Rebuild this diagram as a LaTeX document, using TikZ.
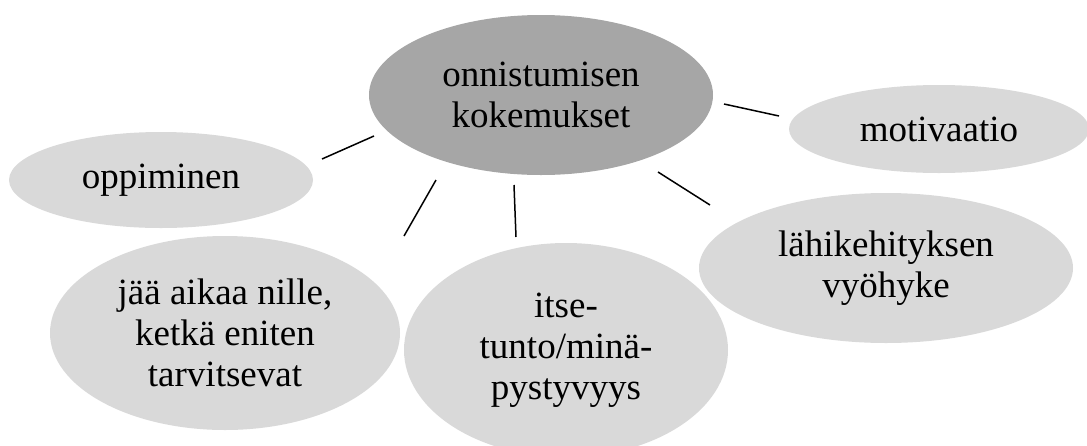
\documentclass[tikz,border=0pt]{standalone}
\usepackage{fontspec}
\setmainfont{Liberation Serif}
\usetikzlibrary{shapes.geometric}
\definecolor{hubgray}{HTML}{A6A6A6}
\definecolor{leafgray}{HTML}{D9D9D9}
\tikzset{
  bubble/.style={ellipse, draw=none, inner sep=0pt, align=center,
    font=\fontsize{37}{41}\selectfont},
  hub/.style={bubble, fill=hubgray},
  leaf/.style={bubble, fill=leafgray},
  spoke/.style={draw=black, line width=1.5pt}
}
\begin{document}
\begin{tikzpicture}[x=1pt,y=-1pt]
\useasboundingbox (0,0) rectangle (1087,445);
\node[hub, minimum width=344pt, minimum height=160pt] (c) at (541,95) {onnistumisen\\kokemukset};
\node[leaf, minimum width=304pt, minimum height=96pt] (opp) at (161,180) {oppiminen};
\node[leaf, minimum width=350pt, minimum height=194pt] (jaa) at (225,333) {jää aikaa nille,\\ketkä eniten\\tarvitsevat};
\node[leaf, minimum width=324pt, minimum height=214pt] (itse) at (566,350) {itse-\\tunto/minä-\\pystyvyys};
\node[leaf, minimum width=374pt, minimum height=150pt] (lahi) at (886,268) {lähikehityksen\\vyöhyke};
\node[leaf, minimum width=300pt, minimum height=88pt] (moti) at (939,129) {motivaatio};
\coordinate (a1) at (374,136); \coordinate (b1) at (322,159);
\coordinate (a2) at (436,180); \coordinate (b2) at (404,236);
\coordinate (a3) at (514,185); \coordinate (b3) at (516,237);
\coordinate (a4) at (658,172); \coordinate (b4) at (710,205);
\coordinate (a5) at (724,104); \coordinate (b5) at (779,116);
\draw[spoke] (a1) -- (b1);
\draw[spoke] (a2) -- (b2);
\draw[spoke] (a3) -- (b3);
\draw[spoke] (a4) -- (b4);
\draw[spoke] (a5) -- (b5);
\end{tikzpicture}
\end{document}
